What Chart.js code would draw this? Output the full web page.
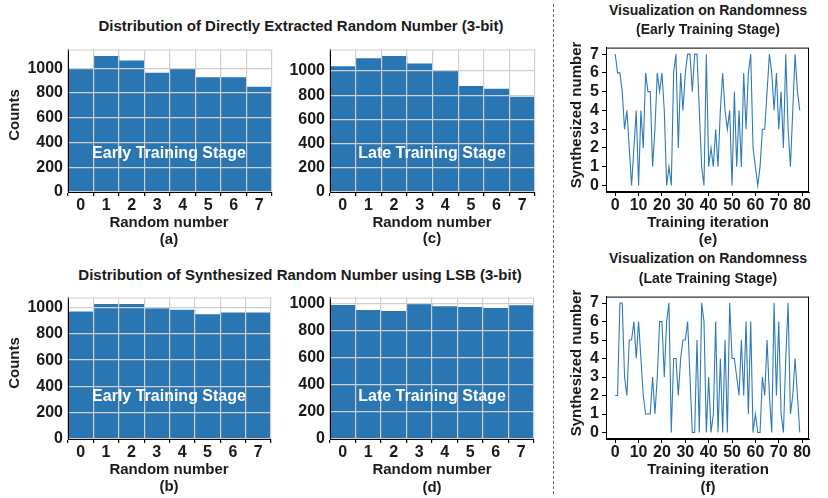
<!DOCTYPE html>
<html>
<head>
<meta charset="utf-8">
<script src="https://cdn.jsdelivr.net/npm/chart.js@4.4.1/dist/chart.umd.min.js"></script>
<style>
  body { margin: 0; background: #fff; }
  #fig { position: relative; width: 828px; height: 498px; overflow: hidden;
         font-family: "Liberation Sans", Arial, sans-serif; font-weight: bold; color: #1a1a1a; }
  #fig canvas { position: absolute; }
  .t { position: absolute; white-space: nowrap; transform: translate(-50%, -50%); }
  .rot { transform: translate(-50%, -50%) rotate(-90deg); }
  .inner { color: #fff; font-size: 16px; }
  #sep { position: absolute; left: 553px; top: 4px; height: 490px; border-left: 1.5px dashed #666; }
</style>
</head>
<body>
<div id="fig">
  <div id="sep"></div>
</div>
<script>
// bar categories (3-bit values)
const digits = ['0', '1', '2', '3', '4', '5', '6', '7'];
// histogram counts
const extractedEarly = [1000, 1096, 1061, 962, 1000, 924, 924, 848];
const extractedLate = [1036, 1103, 1121, 1059, 997, 874, 851, 784];
const lsbEarly = [967, 1024, 1024, 991, 981, 946, 960, 960];
const lsbLate = [991, 954, 947, 998, 981, 975, 968, 988];
const countTicks = [0, 200, 400, 600, 800, 1000];

// synthesized numbers per training iteration
const synthEarly = [7, 6, 6, 5, 3, 4, 2, 0, 2, 4, 0, 4, 2, 6, 5, 5, 1, 3, 6, 5,
  6, 4, 0, 1, 0, 6, 7, 2, 6, 4, 6, 7, 7, 5, 7, 7, 4, 1, 0, 7,
  1, 2, 1, 3, 1, 4, 6, 4, 3, 4, 0, 5, 1, 4, 1, 6, 3, 6, 7, 2,
  1, 0, 1, 3, 3, 5, 7, 6, 4, 6, 3, 5, 2, 7, 3, 1, 4, 7, 5, 4];
const synthLate = [2, 2, 7, 7, 3, 2, 5, 5, 6, 4, 6, 4, 2, 1, 1, 1, 3, 1, 3, 6,
  6, 3, 6, 7, 0, 4, 4, 2, 4, 5, 5, 6, 3, 0, 0, 5, 0, 7, 6, 0,
  3, 0, 1, 6, 0, 4, 0, 5, 0, 7, 4, 4, 3, 2, 5, 2, 6, 1, 6, 0,
  1, 0, 0, 3, 2, 5, 2, 0, 7, 2, 6, 1, 0, 4, 7, 1, 2, 4, 2, 0];
const iterTicks = [0, 10, 20, 30, 40, 50, 60, 70, 80];
const numTicks = [0, 1, 2, 3, 4, 5, 6, 7];

const blue = '#2a76b3';
const gridGray = '#cfcfcf';

Chart.defaults.font.family = '"Liberation Sans", Arial, sans-serif';
Chart.defaults.font.weight = 'bold';
Chart.defaults.font.size = 16;
Chart.defaults.color = '#1a1a1a';
Chart.defaults.animation = false;

const fig = document.getElementById('fig');

const text = (s, x, y, size, cls) => {
  const d = document.createElement('div');
  d.className = 't ' + (cls || '');
  d.textContent = s;
  d.style.left = x + 'px';
  d.style.top = y + 'px';
  if (size) d.style.fontSize = size + 'px';
  fig.appendChild(d);
};

const YW = 60, XH = 30, PT = 4, PR = 4;

const makeCanvas = (box) => {
  const c = document.createElement('canvas');
  const w = box.r - box.l + YW + PR;
  const h = box.b - box.t + PT + XH;
  c.style.left = (box.l - YW) + 'px';
  c.style.top = (box.t - PT) + 'px';
  c.style.width = w + 'px';
  c.style.height = h + 'px';
  c.width = w;
  c.height = h;
  fig.appendChild(c);
  return c;
};

// light top edge for the histograms, black box for the line plots
const frame = {
  id: 'frame',
  afterDraw(chart, args, opts) {
    const a = chart.chartArea, ctx = chart.ctx;
    ctx.save();
    ctx.strokeStyle = opts.color;
    ctx.lineWidth = 1;
    if (opts.full) {
      ctx.strokeRect(a.left + 0.5, a.top + 0.5, a.right - a.left - 1, a.bottom - a.top - 1);
    } else {
      ctx.beginPath();
      ctx.moveTo(a.left, a.top + 0.5);
      ctx.lineTo(a.right, a.top + 0.5);
      ctx.stroke();
    }
    ctx.restore();
  }
};

const plain = v => String(v);

const createHist = (box, values) => {
  const ymax = Math.max(...values) * 1.05;
  new Chart(makeCanvas(box), {
    type: 'bar',
    data: {
      labels: digits,
      datasets: [{ data: values, backgroundColor: blue, borderWidth: 0,
                   barPercentage: 1, categoryPercentage: 1 }]
    },
    options: {
      responsive: false,
      layout: { padding: { top: PT, right: PR, left: 0, bottom: 0 } },
      plugins: { legend: { display: false }, tooltip: { enabled: false },
                 frame: { color: gridGray, full: false } },
      scales: {
        x: {
          afterFit: s => { s.height = XH; },
          grid: { z: 1, offset: true, color: gridGray, lineWidth: 1.2, tickColor: '#000', tickLength: 4 },
          border: { z: 2, color: '#000', width: 1 },
          ticks: { padding: 0, maxRotation: 0 }
        },
        y: {
          min: 0, max: ymax,
          afterFit: s => { s.width = YW; },
          afterBuildTicks: s => { s.ticks = countTicks.map(v => ({ value: v })); },
          grid: { z: 1, color: gridGray, lineWidth: 1.2, drawTicks: false },
          border: { z: 2, color: '#000', width: 1 },
          ticks: { padding: 5, autoSkip: false, callback: plain }
        }
      }
    },
    plugins: [frame]
  });
};

const createLine = (box, values) => {
  new Chart(makeCanvas(box), {
    type: 'line',
    data: {
      datasets: [{ data: values.map((y, x) => ({ x, y })), borderColor: '#2f7bb8',
                   borderWidth: 1.1, pointRadius: 0, tension: 0, fill: false }]
    },
    options: {
      responsive: false,
      layout: { padding: { top: PT, right: PR, left: 0, bottom: 0 } },
      plugins: { legend: { display: false }, tooltip: { enabled: false },
                 frame: { color: '#000', full: true } },
      scales: {
        x: {
          type: 'linear', min: -3.95, max: 82.95,
          afterFit: s => { s.height = XH; },
          afterBuildTicks: s => { s.ticks = iterTicks.map(v => ({ value: v })); },
          grid: { drawOnChartArea: false, tickColor: '#000', tickLength: 4 },
          border: { color: '#000', width: 1 },
          ticks: { padding: 0, maxRotation: 0, autoSkip: false, callback: plain }
        },
        y: {
          min: -0.35, max: 7.35,
          afterFit: s => { s.width = YW; },
          afterBuildTicks: s => { s.ticks = numTicks.map(v => ({ value: v })); },
          grid: { drawOnChartArea: false, tickColor: '#000', tickLength: 4 },
          border: { color: '#000', width: 1 },
          ticks: { padding: 3, autoSkip: false, callback: plain }
        }
      }
    },
    plugins: [frame]
  });
};

createHist({ l: 68, t: 39, r: 272, b: 192 }, extractedEarly);
createHist({ l: 330, t: 39, r: 535, b: 192 }, extractedLate);
createHist({ l: 68, t: 287, r: 271, b: 439 }, lsbEarly);
createHist({ l: 330, t: 287, r: 534, b: 439 }, lsbLate);
createLine({ l: 606, t: 39, r: 809, b: 192 }, synthEarly);
createLine({ l: 606, t: 288, r: 809, b: 439 }, synthLate);

// titles and labels
text('Distribution of Directly Extracted Random Number (3-bit)', 301, 25, 15);
text('Distribution of Synthesized Random Number using LSB (3-bit)', 300, 274, 15);

text('Early Training Stage', 169, 153, 16, 'inner');
text('Late Training Stage', 432, 153, 16, 'inner');
text('Early Training Stage', 169, 396, 16, 'inner');
text('Late Training Stage', 432, 396, 16, 'inner');

text('Random number', 169, 221, 15);
text('Random number', 432, 221, 15);
text('Random number', 169, 468, 15);
text('Random number', 432, 468, 15);
text('(a)', 169, 238, 15);
text('(c)', 432, 237, 15);
text('(b)', 169, 485, 15);
text('(d)', 432, 486, 15);
text('Counts', 13, 115, 15, 'rot');
text('Counts', 13, 363, 15, 'rot');

text('Visualization on Randomness', 708, 10, 14);
text('(Early Training Stage)', 708, 29, 14);
text('Synthesized number', 575, 115, 15, 'rot');
text('Training iteration', 708, 221, 15);
text('(e)', 708, 238, 15);
text('Visualization on Randomness', 708, 258, 14);
text('(Late Training Stage)', 708, 278, 14);
text('Synthesized number', 575, 363, 15, 'rot');
text('Training iteration', 708, 468, 15);
text('(f)', 708, 486, 15);
</script>
</body>
</html>
